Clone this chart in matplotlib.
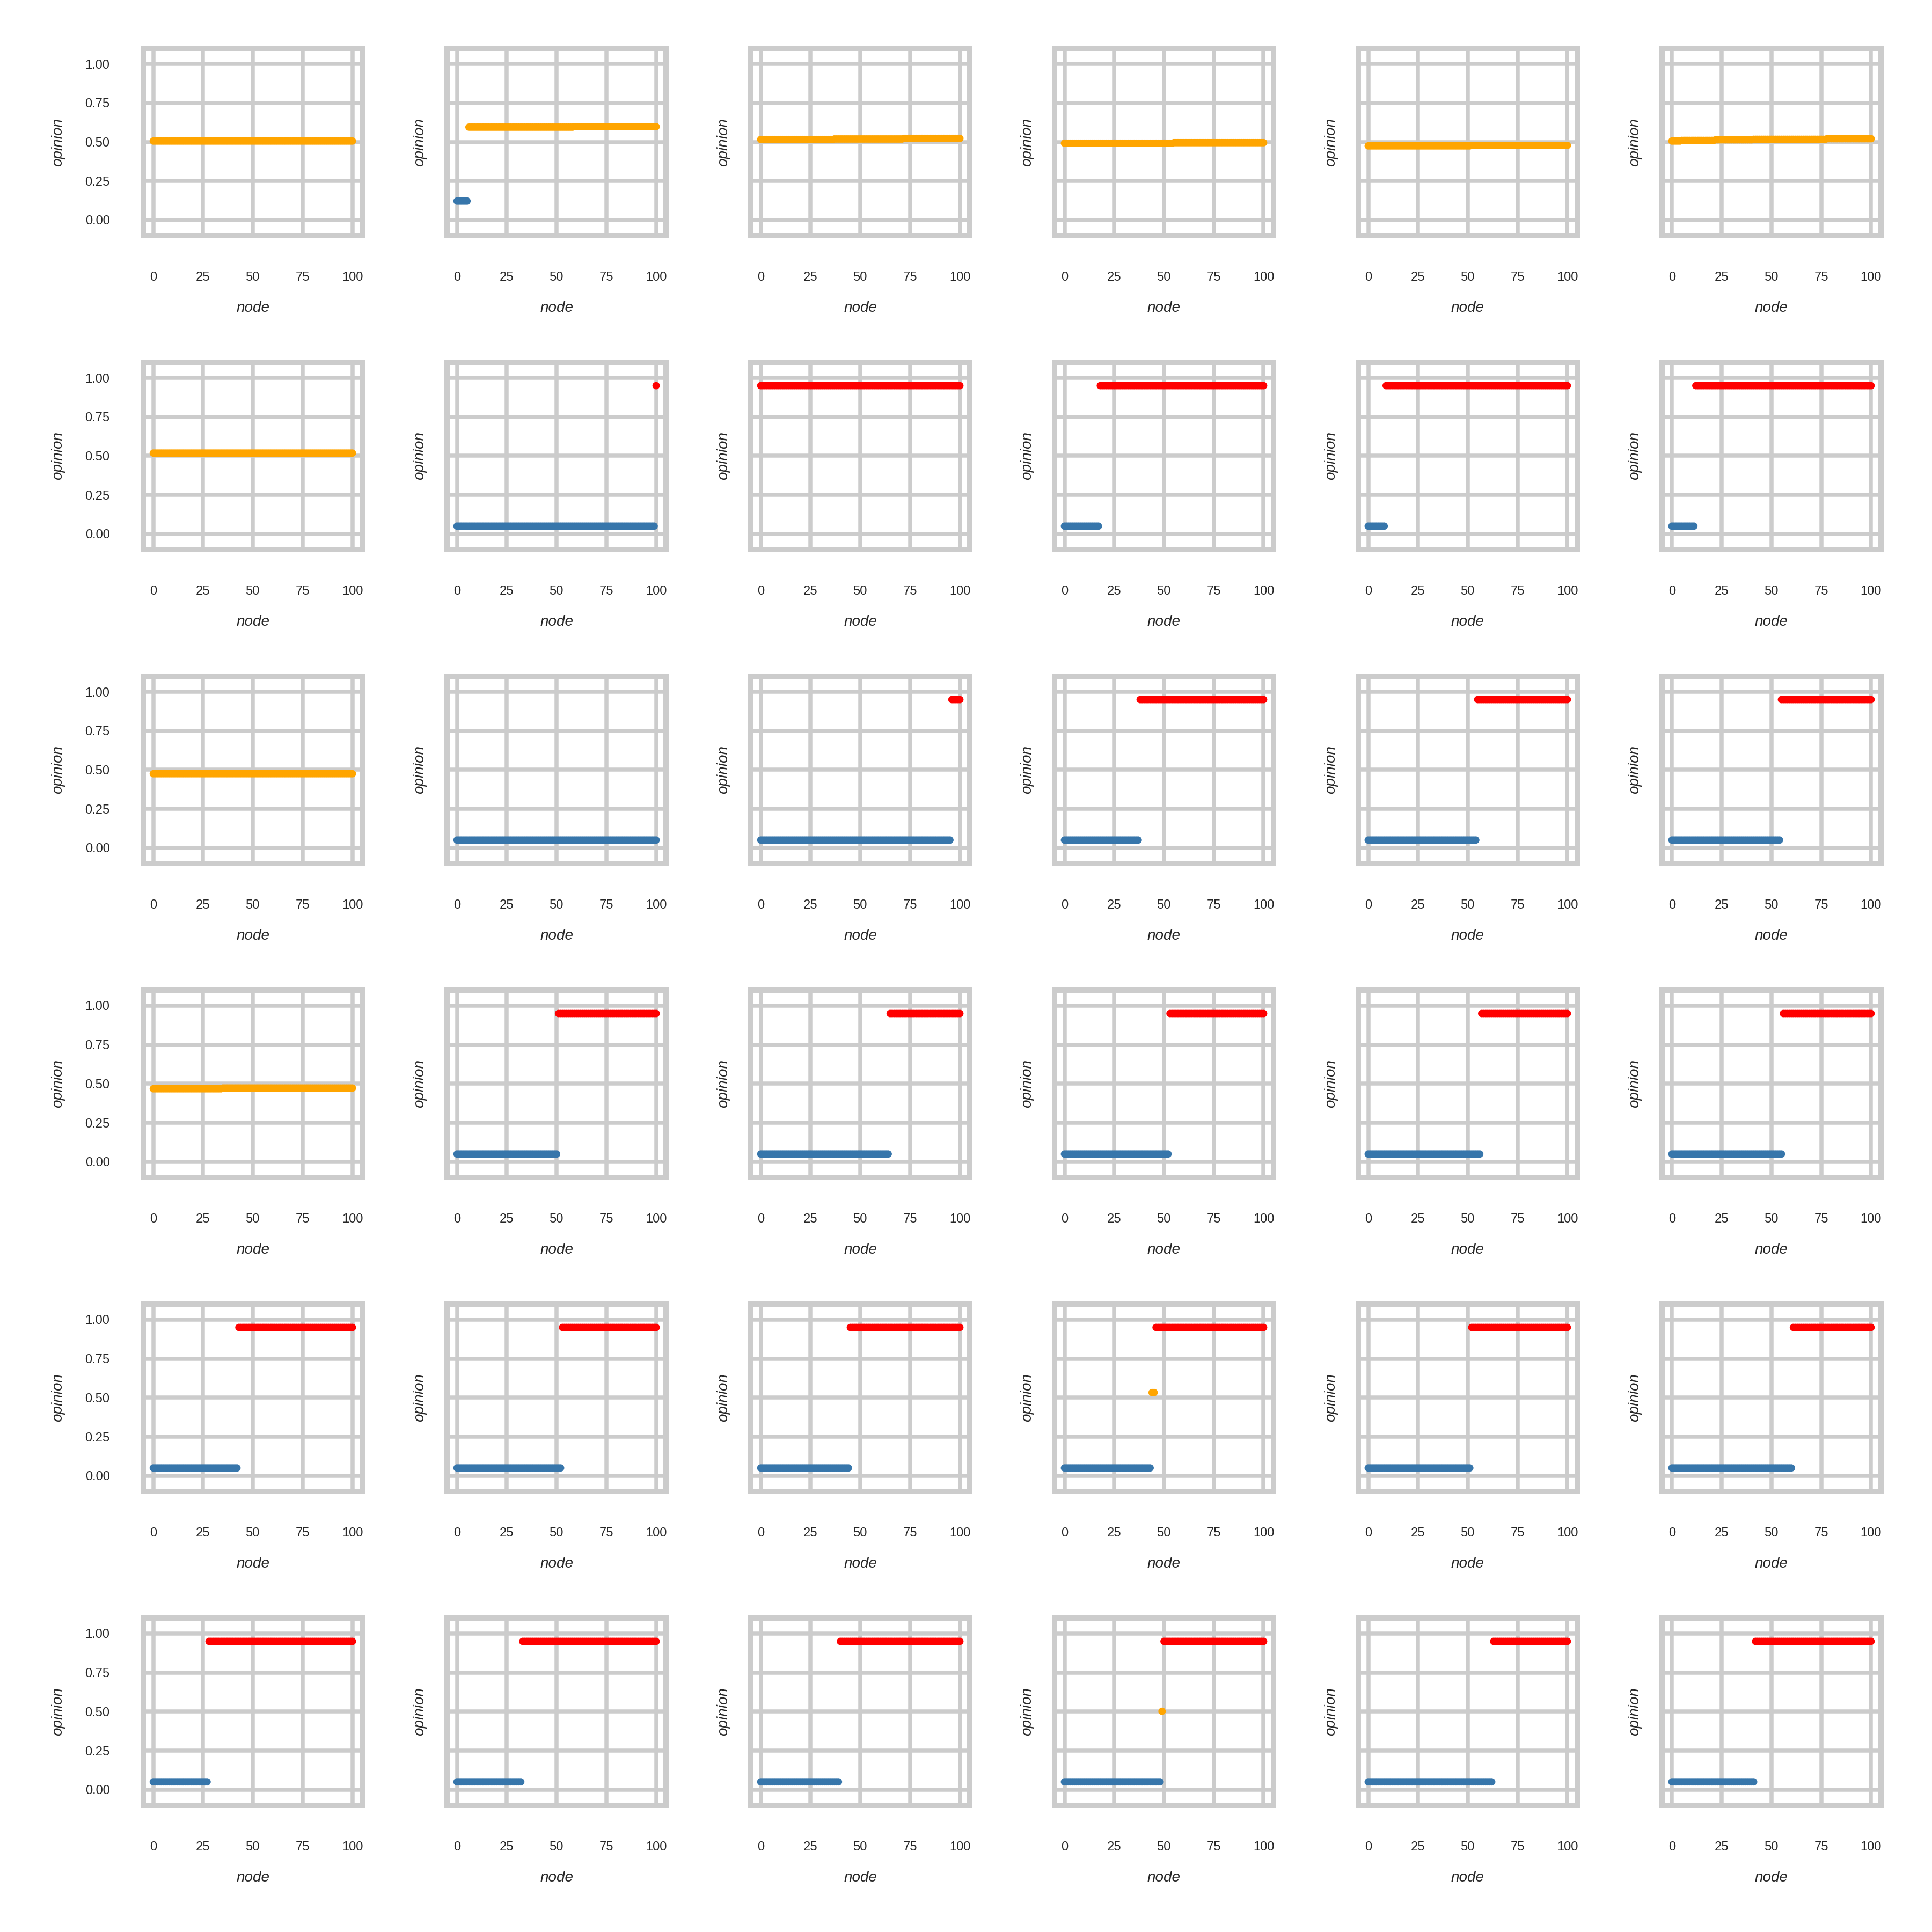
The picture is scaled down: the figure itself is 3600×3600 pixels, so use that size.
import numpy as np
import matplotlib
matplotlib.use("Agg")
import matplotlib.pyplot as plt

plt.rcParams['font.family'] = ['Liberation Sans', 'DejaVu Sans']

# ---- data: each panel is a list of runs (number of consecutive nodes, opinion) ----
row1 = [
    [(101, 0.506)],
    [(6, 0.121), (53, 0.595), (42, 0.598)],
    [(37, 0.516), (35, 0.519), (29, 0.523)],
    [(55, 0.492), (46, 0.4955)],
    [(52, 0.475), (49, 0.478)],
    [(5, 0.506), (17, 0.510), (19, 0.514), (37, 0.517), (23, 0.521)],
]
row2 = [
    [(101, 0.518)],
    [(100, 0.05), (1, 0.95)],
    [(101, 0.95)],
    [(18, 0.05), (83, 0.95)],
    [(9, 0.05), (92, 0.95)],
    [(12, 0.05), (89, 0.95)],
]
row3 = [
    [(101, 0.475)],
    [(101, 0.05)],
    [(96, 0.05), (5, 0.95)],
    [(38, 0.05), (63, 0.95)],
    [(55, 0.05), (46, 0.95)],
    [(55, 0.05), (46, 0.95)],
]
row4 = [
    [(35, 0.468), (66, 0.4725)],
    [(51, 0.05), (50, 0.95)],
    [(65, 0.05), (36, 0.95)],
    [(53, 0.05), (48, 0.95)],
    [(57, 0.05), (44, 0.95)],
    [(56, 0.05), (45, 0.95)],
]
row5 = [
    [(43, 0.05), (58, 0.95)],
    [(53, 0.05), (48, 0.95)],
    [(45, 0.05), (56, 0.95)],
    [(44, 0.05), (2, 0.533), (55, 0.95)],
    [(52, 0.05), (49, 0.95)],
    [(61, 0.05), (40, 0.95)],
]
row6 = [
    [(28, 0.05), (73, 0.95)],
    [(33, 0.05), (68, 0.95)],
    [(40, 0.05), (61, 0.95)],
    [(49, 0.05), (1, 0.502), (51, 0.95)],
    [(63, 0.05), (38, 0.95)],
    [(42, 0.05), (59, 0.95)],
]
panels = [row1, row2, row3, row4, row5, row6]

x_ticks = [0, 25, 50, 75, 100]
y_ticks = [0.00, 0.25, 0.50, 0.75, 1.00]
y_ticklabels = ["0.00", "0.25", "0.50", "0.75", "1.00"]
x_label = "node"
y_label = "opinion"

LOW_COLOR = "#3776ab"
MID_COLOR = "#ffa500"
HIGH_COLOR = "#ff0000"


def color_for(v):
    if v < 1 / 3:
        return LOW_COLOR
    if v > 2 / 3:
        return HIGH_COLOR
    return MID_COLOR


GRID = "#cccccc"
TEXT = "#262626"

fig, axes = plt.subplots(6, 6, figsize=(12, 12), dpi=300, sharey=True)
fig.subplots_adjust(left=0.0742, right=0.9736, top=0.975, bottom=0.0656,
                    wspace=0.387, hspace=0.676)

for r in range(6):
    for c in range(6):
        ax = axes[r, c]
        runs = panels[r][c]
        y = np.concatenate([np.full(n, v) for n, v in runs])
        x = np.arange(len(y))
        cols = [color_for(v) for v in y]
        ax.scatter(x, y, s=11, c=cols, edgecolors="none", linewidths=0,
                   zorder=3)
        ax.set_xlim(-5, 105)
        ax.set_ylim(-0.1, 1.1)
        ax.set_xticks(x_ticks)
        ax.set_yticks(y_ticks)
        ax.set_yticklabels(y_ticklabels)
        ax.grid(True, color=GRID, linewidth=1.8, zorder=0)
        ax.set_axisbelow(True)
        for sp in ax.spines.values():
            sp.set_color(GRID)
            sp.set_linewidth(2.4)
        ax.tick_params(axis="x", length=0, pad=16, labelsize=5.7,
                       labelcolor=TEXT)
        ax.tick_params(axis="y", length=0, pad=15, labelsize=5.7,
                       labelcolor=TEXT)
        ax.set_xlabel(x_label, fontsize=6.7, fontstyle="italic", color=TEXT,
                      labelpad=8)
        ax.set_ylabel(y_label, fontsize=6.7, fontstyle="italic", color=TEXT,
                      labelpad=9)
        ax.set_facecolor("white")

fig.savefig("out.png", dpi=300, facecolor="white")
